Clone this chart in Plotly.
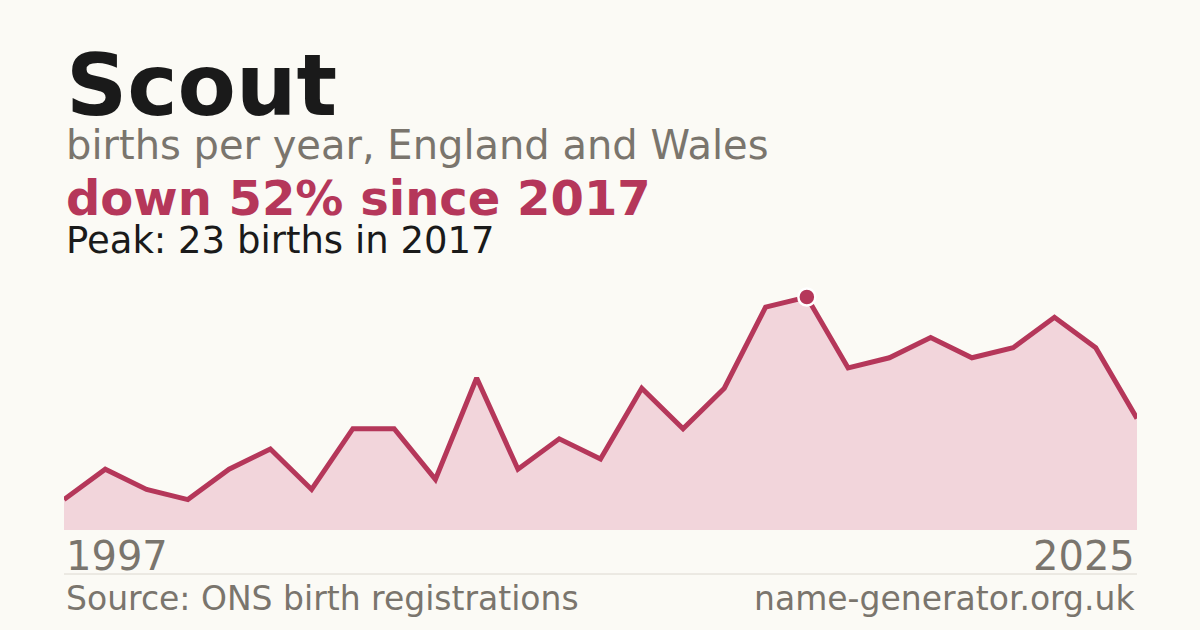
import plotly.graph_objects as go

name = "Scout"
years = [1997] + list(range(2000, 2026))
births = [3, 6, 4, 3, 6, 8, 4, 10, 10, 5, 15, 6, 9, 7, 14, 10, 14, 22, 23,
          16, 17, 19, 17, 18, 21, 18, 11]

BG = "#fbfaf5"
CRIMSON = "#b5375a"
FILL = "#f2d5db"
GREY = "#7a756d"
INK = "#1a1a1a"
FONT = "DejaVu Sans"

peak = max(births)
peak_i = births.index(peak)
peak_year = years[peak_i]
change = round((1 - births[-1] / peak) * 100)

W, H = 1200, 630
TOP, BOT = 280, 530  # plot area in pixels


def py(px):
    # pixel row -> paper y
    return (BOT - px) / (BOT - TOP)


x = [str(y) for y in years]

fig = go.Figure()
fig.add_trace(go.Scatter(
    x=x, y=births, mode="lines", fill="tozeroy",
    fillcolor=FILL, line=dict(color=CRIMSON, width=5),
    hoverinfo="skip",
))
fig.add_trace(go.Scatter(
    x=[x[peak_i]], y=[peak], mode="markers",
    marker=dict(color=CRIMSON, size=17, line=dict(color="white", width=2.5)),
    cliponaxis=False, hoverinfo="skip",
))


def note(text, px, size, color, bold=False, x=0, anchor="left"):
    fig.add_annotation(
        text=f"<b>{text}</b>" if bold else text,
        xref="paper", yref="paper", x=x, y=py(px),
        xanchor=anchor, yanchor="middle", showarrow=False,
        font=dict(family=FONT, size=size, color=color),
    )


note(name, 85, 85, INK, bold=True)
note("births per year, England and Wales", 145, 40, GREY)
note(f"down {change}% since {peak_year}", 198, 48, CRIMSON, bold=True)
note(f"Peak: {peak} births in {peak_year}", 240, 37, INK)
note(str(years[0]), 556, 40, GREY)
note(str(years[-1]), 556, 40, GREY, x=1, anchor="right")
note("Source: ONS birth registrations", 598, 33, GREY)
note("name-generator.org.uk", 598, 33, GREY, x=1, anchor="right")

fig.add_shape(type="line", xref="paper", yref="paper", x0=0, x1=1,
              y0=py(574), y1=py(574), line=dict(color="#dcd8d0", width=1))

fig.update_layout(
    width=W, height=H,
    margin=dict(l=64, r=63, t=TOP, b=H - BOT, pad=0),
    paper_bgcolor=BG, plot_bgcolor=BG,
    showlegend=False,
    xaxis=dict(type="category", range=[0, len(x) - 1], visible=False,
               fixedrange=True),
    yaxis=dict(range=[0, peak * (BOT - TOP) / (BOT - 297)], visible=False,
               fixedrange=True),
)

fig.write_html("out.html", config={"displayModeBar": False},
               post_script="document.body.style.margin='0';")
